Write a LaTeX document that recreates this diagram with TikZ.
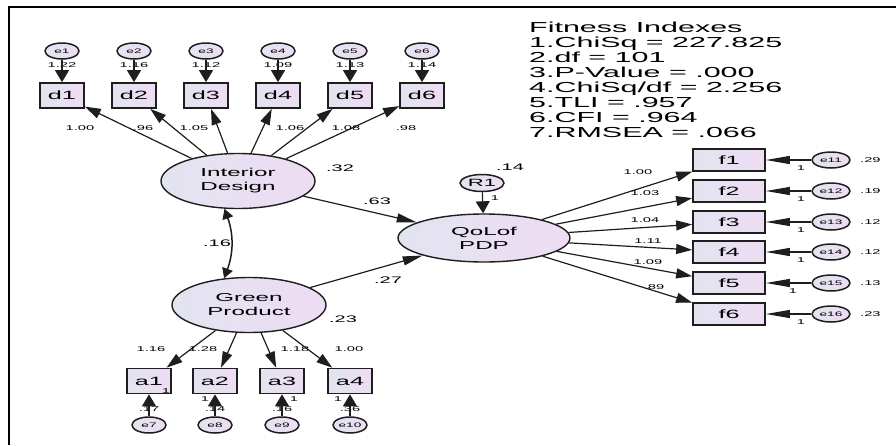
\documentclass[tikz,border=0pt]{standalone}
\usepackage{fontspec}
\newfontfamily\amos[FakeStretch=2.1]{Liberation Sans}
\usetikzlibrary{arrows.meta,shapes.geometric}
\definecolor{lavleft}{RGB}{226,228,240}
\definecolor{lavright}{RGB}{238,220,243}
\definecolor{ink}{RGB}{30,30,30}

\begin{document}
\begin{tikzpicture}[
		x=1pt,y=-1pt,
		latent/.style={
			ellipse,
			draw=ink,
			line width=1.4pt,
			left color=lavleft,
			right color=lavright,
			minimum width=154pt,
			minimum height=55pt,
			inner sep=0pt,
			align=center,
			font=\amos\fontsize{11.5}{14}\selectfont
		},
		observed/.style={
			rectangle,
			draw=ink,
			line width=1.7pt,
			left color=lavleft,
			right color=lavright,
			minimum width=44pt,
			minimum height=25pt,
			inner sep=0pt,
			font=\amos\fontsize{12}{13}\selectfont
		},
		errterm/.style={
			ellipse,
			draw=ink,
			line width=1.5pt,
			left color=lavleft,
			right color=lavright,
			minimum width=34pt,
			minimum height=16pt,
			inner sep=0pt,
			font=\amos\fontsize{6.5}{7}\selectfont
		},
		num/.style={inner sep=0pt,font=\amos\fontsize{7}{8}\selectfont},
		coef/.style={inner sep=0pt,font=\amos\fontsize{9.5}{10}\selectfont},
		loading/.style={-{Triangle[length=16pt,width=10pt]},line width=1.2pt,draw=ink},
		errpath/.style={-{Triangle[length=12pt,width=14pt]},line width=1.2pt,draw=ink},
		errpathh/.style={-{Triangle[length=24pt,width=8pt]},line width=1.2pt,draw=ink},
		covpath/.style={{Triangle[length=10pt,width=11pt]}-{Triangle[length=10pt,width=11pt]},line width=1.5pt,draw=ink}
		]
		\useasboundingbox (0,0) rectangle (896,445);
		\draw[line width=2.5pt] (9,445) -- (9,7) -- (896,7);
		% fit block
		\node[anchor=north west,align=left,inner sep=0pt,font=\amos\fontsize{14.5}{15.1}\selectfont] (fitidx) at (529,21.5)
			{Fitness Indexes\\1.ChiSq = 227.825\\2.df = 101\\3.P-Value = .000\\4.ChiSq/df = 2.256\\5.TLI = .957\\6.CFI = .964\\7.RMSEA = .066};
		% latent variables
		\node[latent] (int) at (238,181) {Interior\\Design};
		\node[latent] (grn) at (249,305) {Green\\Product};
		\node[latent,minimum width=172pt,minimum height=48pt] (qol) at (484,238) {QoLof\\PDP};
		\node[errterm,minimum width=44pt,minimum height=17pt,font=\amos\fontsize{10.5}{11}\selectfont] (r1) at (482,183) {R1};
		% interior design items
		\foreach \i/\x/\v/\w/\lx in {1/62/1.22/1.00/80,2/134/1.16/.96/143,3/206/1.12/1.05/194,4/278/1.09/1.06/290,5/350/1.13/1.08/346,6/422/1.14/.98/406}{
			\node[errterm] (e\i) at (\x,51) {e\i};
			\node[num] at (\x,65) {\v};
			\node[observed] (d\i) at (\x,95.5) {d\i};
			\node[num] at (\lx,128) {\w};
			\draw[errpath] (e\i) -- (d\i);
			\draw[loading] (int) -- (d\i);
		}
		% green product items
		\foreach \i/\k/\x/\v/\w/\lx/\ox/\oy in {1/7/149/.17/1.16/151/166/391,2/8/215/.14/1.28/203/205/399,3/9/282/.16/1.18/295/294/399,4/10/350/.36/1.00/349/338/399}{
			\node[observed] (a\i) at (\x,381) {a\i};
			\node[errterm] (e\k) at (\x,425) {e\k};
			\node[num] at (\x,409) {\v};
			\node[num] at (\ox,\oy) {1};
			\node[num] at (\lx,349) {\w};
			\draw[errpath] (e\k) -- (a\i);
			\draw[loading] (grn) -- (a\i);
		}
		% quality of life items
		\foreach \i/\k/\y/\v/\w/\lx/\ly/\ox in {1/11/160/.29/1.00/638/172/801,2/12/191/.19/1.03/645/193/801,3/13/222/.12/1.04/645/220/801,4/14/252/.12/1.11/648/241/801,5/15/283/.13/1.09/648/262/793,6/16/314/.23/.89/654/287/801}{
			\node[observed,minimum width=72pt,minimum height=22pt] (f\i) at (729,\y) {f\i};
			\node[errterm,minimum width=38pt] (e\k) at (831,\y) {e\k};
			\node[num,anchor=west] at (860,\y) {\v};
			\node[num] at (\ox,\y+8) {1};
			\node[num] at (\lx,\ly) {\w};
			\draw[errpathh] (e\k) -- (f\i);
			\draw[loading] (qol) -- (f\i);
		}
		% structural part
		\draw[loading,-{Triangle[length=20pt,width=9pt]}] (int) -- (qol);
		\draw[loading,-{Triangle[length=20pt,width=9pt]}] (grn) -- (qol);
		\draw[errpath] (r1) -- (qol);
		\draw[covpath] (int.244) to[bend left=20] (grn.133);
		\node[coef] at (340,168) {.32};
		\node[coef] at (377,201) {.63};
		\node[coef] at (217,243) {.16};
		\node[coef] at (388,280) {.27};
		\node[coef] at (343,319) {.23};
		\node[coef] at (510,167) {.14};
		\node[num] at (495,198) {1};
\end{tikzpicture}
\end{document}
